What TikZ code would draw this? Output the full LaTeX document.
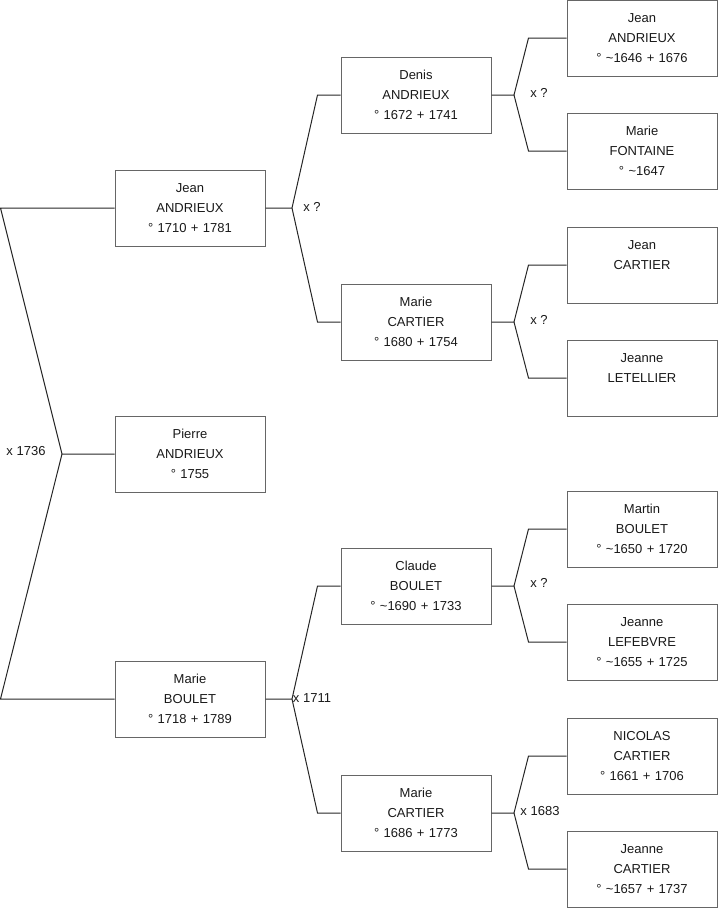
\documentclass[tikz,border=0pt]{standalone}
\usepackage{fontspec}
\setmainfont{Liberation Sans}
\newcommand\pl[3]{\strut#1\\\strut#2\\\strut#3}
\newcommand\tl{\textasciitilde}
\begin{document}
\begin{tikzpicture}[x=1pt,y=-1pt,
  pbox/.style={draw=black!60,line width=1pt,minimum width=150pt,minimum height=76pt,
    text width=150pt,align=center,inner sep=0pt,font=\fontsize{13}{20}\selectfont,text=black!90},
  link/.style={draw=black!85,line width=1pt},
  lab/.style={font=\fontsize{13}{16}\selectfont,inner sep=0pt,text=black!90}]
\useasboundingbox (0,0) rectangle (719,908);
% column 1
\node[pbox] (jeanA) at (190,208) {\pl{Jean}{ANDRIEUX}{° 1710 + 1781}};
\node[pbox] (pierre) at (190,454) {\pl{Pierre}{ANDRIEUX}{° 1755}};
\node[pbox] (marieB) at (190,699) {\pl{Marie}{BOULET}{° 1718 + 1789}};
% column 2
\node[pbox] (denis) at (416,95) {\pl{Denis}{ANDRIEUX}{° 1672 + 1741}};
\node[pbox] (marieC1) at (416,322) {\pl{Marie}{CARTIER}{° 1680 + 1754}};
\node[pbox] (claude) at (416,586) {\pl{Claude}{BOULET}{° \tl1690 + 1733}};
\node[pbox] (marieC2) at (416,813) {\pl{Marie}{CARTIER}{° 1686 + 1773}};
% column 3
\node[pbox] (jeanA0) at (642,38) {\pl{Jean}{ANDRIEUX}{° \tl1646 + 1676}};
\node[pbox] (marieF) at (642,151) {\pl{Marie}{FONTAINE}{° \tl1647}};
\node[pbox] (jeanC) at (642,265) {\pl{Jean}{CARTIER}{}};
\node[pbox] (jeanneL) at (642,378) {\pl{Jeanne}{LETELLIER}{}};
\node[pbox] (martin) at (642,529) {\pl{Martin}{BOULET}{° \tl1650 + 1720}};
\node[pbox] (jeanneLf) at (642,642) {\pl{Jeanne}{LEFEBVRE}{° \tl1655 + 1725}};
\node[pbox] (nicolas) at (642,756) {\pl{NICOLAS}{CARTIER}{° 1661 + 1706}};
\node[pbox] (jeanneC) at (642,869) {\pl{Jeanne}{CARTIER}{° \tl1657 + 1737}};
% vertices
\coordinate (v0) at (62,454);
\coordinate (v1) at (292,208);
\coordinate (v2) at (292,699);
\coordinate (v3) at (514,95);
\coordinate (v4) at (514,322);
\coordinate (v5) at (514,586);
\coordinate (v6) at (514,813);
% left bracket
\draw[link] (pierre.west) -- (v0) -- ([xshift=-114pt]jeanA.west) -- (jeanA.west);
\draw[link] (v0) -- ([xshift=-114pt]marieB.west) -- (marieB.west);
\node[lab] (l0) at (26,451) {x 1736};
% col1 -> col2
\draw[link] (jeanA.east) -- (v1) -- ([xshift=-23pt]denis.west) -- (denis.west);
\draw[link] (v1) -- ([xshift=-23pt]marieC1.west) -- (marieC1.west);
\node[lab] (l1) at (312,207) {x ?};
\draw[link] (marieB.east) -- (v2) -- ([xshift=-23pt]claude.west) -- (claude.west);
\draw[link] (v2) -- ([xshift=-23pt]marieC2.west) -- (marieC2.west);
\node[lab] (l2) at (312,698) {x 1711};
% col2 -> col3
\draw[link] (denis.east) -- (v3) -- ([xshift=-38pt]jeanA0.west) -- (jeanA0.west);
\draw[link] (v3) -- ([xshift=-38pt]marieF.west) -- (marieF.west);
\node[lab] (l3) at (539,93) {x ?};
\draw[link] (marieC1.east) -- (v4) -- ([xshift=-38pt]jeanC.west) -- (jeanC.west);
\draw[link] (v4) -- ([xshift=-38pt]jeanneL.west) -- (jeanneL.west);
\node[lab] (l4) at (539,320) {x ?};
\draw[link] (claude.east) -- (v5) -- ([xshift=-38pt]martin.west) -- (martin.west);
\draw[link] (v5) -- ([xshift=-38pt]jeanneLf.west) -- (jeanneLf.west);
\node[lab] (l5) at (539,583) {x ?};
\draw[link] (marieC2.east) -- (v6) -- ([xshift=-38pt]nicolas.west) -- (nicolas.west);
\draw[link] (v6) -- ([xshift=-38pt]jeanneC.west) -- (jeanneC.west);
\node[lab] (l6) at (540,811) {x 1683};
\end{tikzpicture}
\end{document}
